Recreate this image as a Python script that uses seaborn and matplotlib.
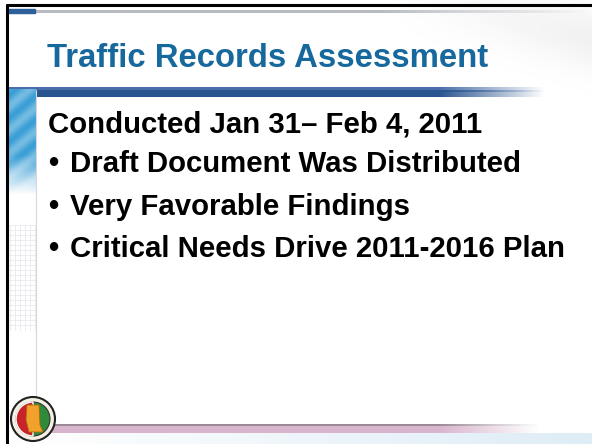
import numpy as np
import matplotlib
matplotlib.use("Agg")
import matplotlib.pyplot as plt
import seaborn as sns
from matplotlib.patches import Circle, Rectangle, Polygon

sns.set_style("white")
plt.rcParams['font.family'] = ['Liberation Sans', 'DejaVu Sans']

# slide content
title = "Traffic Records Assessment"
intro = "Conducted Jan 31\u2013 Feb 4, 2011"
bullets = ["Draft Document Was Distributed",
           "Very Favorable Findings",
           "Critical Needs Drive 2011-2016 Plan"]

title_color = "#17699d"
W, H = 592, 444

fig = plt.figure(figsize=(W / 100, H / 100), dpi=100)
ax = fig.add_axes([0, 0, 1, 1])
ax.set_xlim(0, W)
ax.set_ylim(H, 0)
ax.axis("off")


def hbar(x0, x1, y0, y1, rgb, fade_start, fade_end, alpha=1.0):
    # horizontal bar that fades out to the right
    xs = np.linspace(x0, x1, 400)
    a = np.clip((fade_end - xs) / (fade_end - fade_start), 0, 1) * alpha
    img = np.zeros((1, len(xs), 4))
    img[0, :, :3] = matplotlib.colors.to_rgb(rgb)
    img[0, :, 3] = a
    ax.imshow(img, extent=(x0, x1, y1, y0), aspect="auto", interpolation="bilinear", zorder=2)


# faint swoosh top right
yy, xx = np.mgrid[0:H, 0:W]
sw = np.exp(-((yy - 40 - (xx - 592) * 0.25) ** 2) / 900) * np.clip((xx - 380) / 212, 0, 1) * 0.12
img = np.ones((H, W, 4))
img[..., :3] = 0.55
img[..., 3] = sw
ax.imshow(img, extent=(0, W, H, 0), aspect="auto", zorder=1)

# top line
ax.add_patch(Rectangle((8, 9), 27, 4, color="#2d5f9b", zorder=3))
hbar(35, 592, 10, 13, "#b8bcc2", 380, 592)

# title bar
hbar(8, 560, 87, 92, "#4a6fa8", 440, 545)
hbar(8, 560, 91, 97, "#2a5590", 440, 545)

# left strip with blue picture and grid
strip = np.ones((300, 28, 4))
ys = np.linspace(0, 1, 300)[:, None]
xs = np.linspace(0, 1, 28)[None, :]
blue = np.array(matplotlib.colors.to_rgb("#3a9fd6"))
fade = np.clip(1 - (ys - 0.22) / 0.13, 0, 1)
wave = 0.15 * np.sin(ys * 80 + xs * 6)
for c in range(3):
    strip[..., c] = 1 - (1 - blue[c]) * fade * (0.85 + wave)
strip[..., 3] = 1
ax.imshow(np.clip(strip, 0, 1), extent=(8, 36, 390, 90), aspect="auto", zorder=2)
for gy in np.arange(225, 330, 5):
    ax.plot([8, 36], [gy, gy], color="#e4e6ea", lw=0.5, zorder=2)
for gx in np.arange(10, 36, 5):
    ax.plot([gx, gx], [225, 330], color="#e4e6ea", lw=0.5, zorder=2)
ax.plot([36, 36], [90, 400], color="#d8d8dc", lw=0.8, zorder=3)

# bottom pink line and blue glow
hbar(40, 592, 424, 426, "#9a8a96", 440, 540)
hbar(40, 592, 426, 433, "#d9b5cd", 440, 540)
glow = np.ones((1, 200, 4))
glow[0, :, :3] = matplotlib.colors.to_rgb("#d6e8f4")
glow[0, :, 3] = np.linspace(0, 0.8, 200)
ax.imshow(glow, extent=(8, 592, 444, 433), aspect="auto", zorder=2)

# seal
ax.add_patch(Circle((33, 419), 22, facecolor="#f4f0e4", edgecolor="#222222", lw=1.5, zorder=4))
ax.add_patch(Circle((33, 419), 17, facecolor="#2e8b3a", edgecolor="#333333", lw=0.8, zorder=5))
ax.add_patch(matplotlib.patches.Wedge((33, 419), 17, 90, 270, facecolor="#c8232b", zorder=6))
ax.add_patch(Polygon([[27, 405], [39, 405], [40, 425], [43, 432], [29, 432], [28, 428], [26, 420]],
                     closed=True, facecolor="#f2a12a", edgecolor="#b06a10", lw=0.6, zorder=7))

# borders
ax.plot([7, 7], [5, 444], color="black", lw=2.2, zorder=8)
ax.plot([7, 592], [5, 5], color="black", lw=2.2, zorder=8)

# text
ax.text(47, 67, title, color=title_color, fontsize=23.7, fontweight="bold", va="baseline", zorder=9)
ax.text(48, 132, intro, color="black", fontsize=21.2, fontweight="bold", va="baseline", zorder=9)
for i, b in enumerate(bullets):
    y = 172 + i * 42.5
    ax.text(48, y, "\u2022", color="black", fontsize=21.2, fontweight="bold", va="baseline", zorder=9)
    ax.text(70, y, b, color="black", fontsize=21.2, fontweight="bold", va="baseline", zorder=9)

fig.savefig("out.png", dpi=100)
